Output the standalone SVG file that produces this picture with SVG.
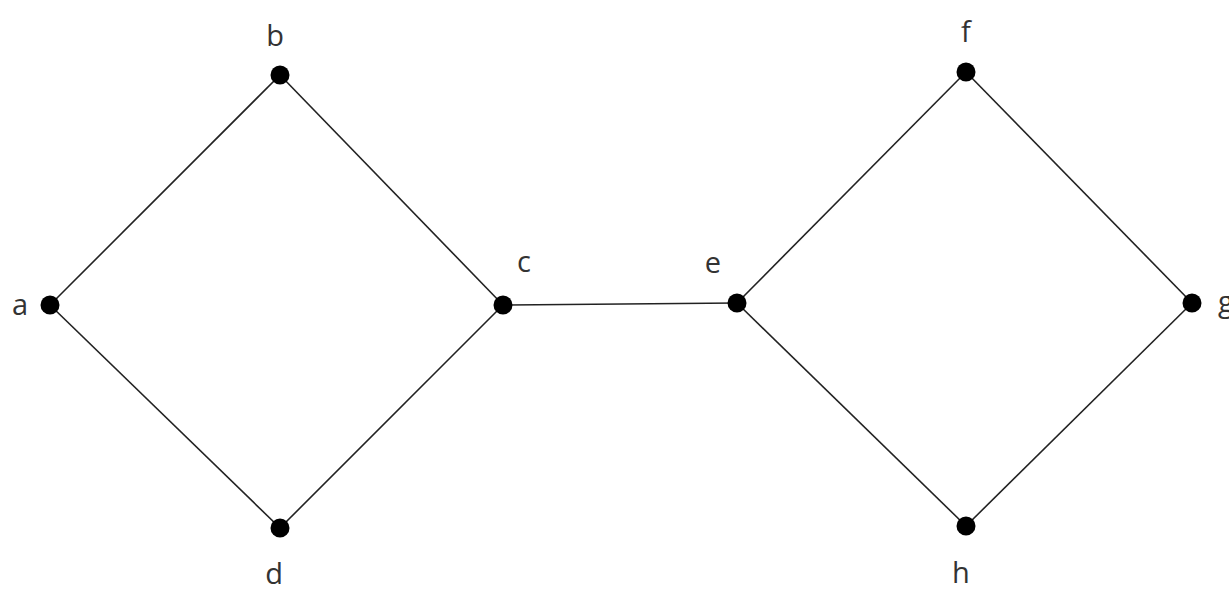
<svg xmlns="http://www.w3.org/2000/svg" width="1229" height="592" viewBox="0 0 1229 592">
<style>
.e{stroke:#222;stroke-width:1.6;fill:none}
.n{fill:#000}
.t{font-family:"Open Sans","Liberation Sans",sans-serif;font-size:29px;fill:#333;text-anchor:middle}
</style>
<rect width="1229" height="592" fill="#fff"/>
<g id="edges">
<line class="e" x1="50" y1="305" x2="280" y2="75"/>
<line class="e" x1="50" y1="305" x2="280" y2="528"/>
<line class="e" x1="280" y1="75" x2="503" y2="305"/>
<line class="e" x1="280" y1="528" x2="503" y2="305"/>
<line class="e" x1="503" y1="305" x2="737" y2="303"/>
<line class="e" x1="737" y1="303" x2="966" y2="72"/>
<line class="e" x1="737" y1="303" x2="966" y2="526"/>
<line class="e" x1="966" y1="72" x2="1192" y2="303"/>
<line class="e" x1="966" y1="526" x2="1192" y2="303"/>
</g>
<g id="a"><circle class="n" cx="50" cy="305" r="9.5"/><text class="t" x="20" y="315">a</text></g>
<g id="b"><circle class="n" cx="280" cy="75" r="9.5"/><text class="t" x="275" y="46">b</text></g>
<g id="c"><circle class="n" cx="503" cy="305" r="9.5"/><text class="t" x="524" y="272">c</text></g>
<g id="d"><circle class="n" cx="280" cy="528" r="9.5"/><text class="t" x="274" y="584">d</text></g>
<g id="e"><circle class="n" cx="737" cy="303" r="9.5"/><text class="t" x="713" y="273">e</text></g>
<g id="f"><circle class="n" cx="966" cy="72" r="9.5"/><text class="t" x="966" y="42">f</text></g>
<g id="g"><circle class="n" cx="1192" cy="303" r="9.5"/><text class="t" x="1218" y="312" text-anchor="start" style="text-anchor:start">g</text></g>
<g id="h"><circle class="n" cx="966" cy="526" r="9.5"/><text class="t" x="961" y="583">h</text></g>
</svg>
